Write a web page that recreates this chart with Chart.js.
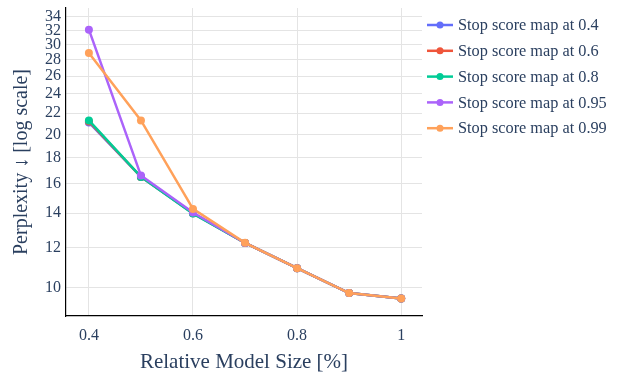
<!DOCTYPE html>
<html>
<head>
<meta charset="utf-8">
<script src="https://cdn.jsdelivr.net/npm/chart.js@4"></script>
<style>
  html, body { margin: 0; padding: 0; background: #fff; }
  #wrap { width: 618px; height: 375px; }
</style>
</head>
<body>
<div id="wrap"><canvas id="ppl-chart"></canvas></div>
<script>
const modelSizes = [0.4, 0.5, 0.6, 0.7, 0.8, 0.9, 1];
const stop04  = [21.1, 16.5, 14.0, 12.24, 10.92, 9.76, 9.52];
const stop06  = [21.2, 16.5, 14.0, 12.24, 10.92, 9.76, 9.52];
const stop08  = [21.3, 16.5, 13.98, 12.24, 10.92, 9.76, 9.52];
const stop095 = [32.1, 16.6, 14.05, 12.24, 10.92, 9.76, 9.52];
const stop099 = [28.9, 21.3, 14.28, 12.25, 10.92, 9.76, 9.52];
const seriesNames = ['Stop score map at 0.4', 'Stop score map at 0.6', 'Stop score map at 0.8',
                     'Stop score map at 0.95', 'Stop score map at 0.99'];
const seriesColors = ['#636efa', '#EF553B', '#00cc96', '#ab63fa', '#FFA15A'];
const xTicks = [0.4, 0.6, 0.8, 1];
const yTicks = [10, 12, 14, 16, 18, 20, 22, 24, 26, 28, 30, 32, 34];

const txtColor = '#2a3f5f';
const serif = '"Liberation Serif", "Times New Roman", serif';

// legend drawn like plotly: short line with a dot, then label
const sideLegend = {
    id: 'sideLegend',
    afterDraw(chart) {
        const ctx = chart.ctx;
        ctx.save();
        chart.data.datasets.forEach((ds, i) => {
            const y = 25 + i * 25.8;
            ctx.strokeStyle = ds.borderColor;
            ctx.lineWidth = 2.5;
            ctx.beginPath();
            ctx.moveTo(427, y);
            ctx.lineTo(453, y);
            ctx.stroke();
            ctx.fillStyle = ds.borderColor;
            ctx.beginPath();
            ctx.arc(440, y, 3.5, 0, Math.PI * 2);
            ctx.fill();
            ctx.fillStyle = txtColor;
            ctx.font = '16.3px ' + serif;
            ctx.textBaseline = 'middle';
            ctx.fillText(ds.label, 458, y + 1);
        });
        ctx.restore();
    }
};

const allSeries = [stop04, stop06, stop08, stop095, stop099];

new Chart(document.getElementById('ppl-chart'), {
    type: 'line',
    data: {
        datasets: allSeries.map((vals, i) => ({
            label: seriesNames[i],
            data: modelSizes.map((x, j) => ({ x: x, y: vals[j] })),
            borderColor: seriesColors[i],
            backgroundColor: seriesColors[i],
            borderWidth: 2.5,
            pointRadius: 4,
            pointBorderWidth: 0,
            tension: 0,
            fill: false,
            order: allSeries.length - i   // later series drawn on top, like plotly
        }))
    },
    options: {
        responsive: true,
        maintainAspectRatio: false,
        animation: false,
        layout: { padding: { left: 0, top: 8, right: 196, bottom: 0 } },
        plugins: {
            legend: { display: false },
            tooltip: { enabled: false }
        },
        scales: {
            x: {
                type: 'linear',
                min: 0.356,
                max: 1.04,
                afterBuildTicks: (scale) => { scale.ticks = xTicks.map(v => ({ value: v })); },
                afterFit: (scale) => {
                    scale.height = 59;
                    scale.paddingLeft = 0;
                    scale.paddingRight = 0;
                },
                ticks: {
                    color: txtColor,
                    font: { family: serif, size: 16 },
                    padding: 10,
                    maxRotation: 0,
                    callback: (v) => String(v)
                },
                grid: { color: '#e4e4e4', lineWidth: 1, drawTicks: false },
                border: { color: '#000', width: 1.2 },
                title: {
                    display: true,
                    text: 'Relative Model Size [%]',
                    color: txtColor,
                    font: { family: serif, size: 21 },
                    padding: { top: 9, bottom: 0 }
                }
            },
            y: {
                type: 'logarithmic',
                min: 8.8,
                max: 35.4,
                afterBuildTicks: (scale) => { scale.ticks = yTicks.map(v => ({ value: v })); },
                afterFit: (scale) => {
                    scale.width = 66;
                    scale.paddingTop = 0;
                    scale.paddingBottom = 0;
                },
                ticks: {
                    color: txtColor,
                    font: { family: serif, size: 16 },
                    padding: 5,
                    callback: (v) => String(v)
                },
                grid: { color: '#e4e4e4', lineWidth: 1, drawTicks: false },
                border: { color: '#000', width: 1.2 },
                title: {
                    display: true,
                    text: 'Perplexity ↓ [log scale]',
                    color: txtColor,
                    font: { family: serif, size: 20 },
                    padding: { top: 10, bottom: 0 }
                }
            }
        }
    },
    plugins: [sideLegend]
});
</script>
</body>
</html>
